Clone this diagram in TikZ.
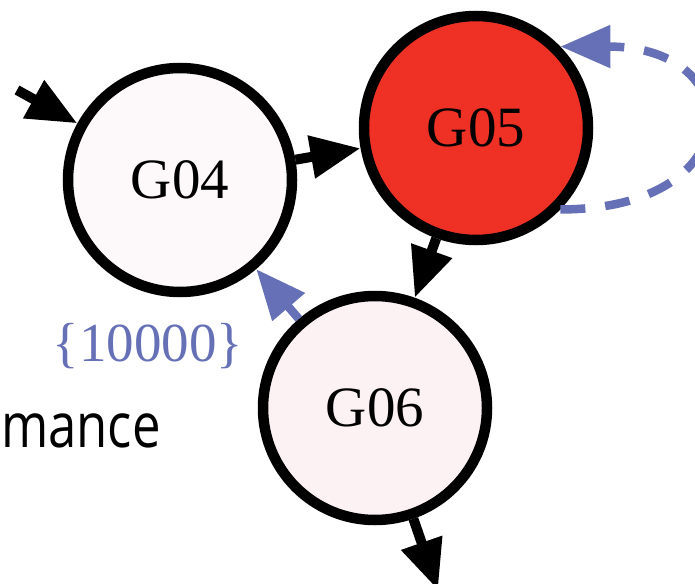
\documentclass[tikz,border=0pt]{standalone}
\usepackage{fontspec}
\setmainfont{Liberation Serif}
\newfontfamily\clusterfont[FakeStretch=0.82]{Open Sans}
\usepackage{tikz}
\usetikzlibrary{arrows.meta,positioning}
\definecolor{hotred}{HTML}{EE3124}
\definecolor{palepink}{HTML}{FDF8F9}
\definecolor{lightpink}{HTML}{FCF1F3}
\definecolor{edgeblue}{HTML}{6670B6}

\begin{document}
\begin{tikzpicture}[x=1pt,y=-1pt,
gene/.style={draw,circle,line width=10.5pt,minimum size=224pt,inner sep=0pt,
    font=\fontsize{57}{60}\selectfont},
link/.style={line width=10pt,-{Triangle[length=50pt,width=41pt]}},
weaklink/.style={line width=8.5pt,edgeblue,dash pattern=on 25pt off 20pt,
    -{Triangle[length=50pt,width=41pt]}}]
\useasboundingbox (0,0) rectangle (695,583);

\node (g04) [gene,fill=palepink] at (180,180) {G04};
\node (g05) [gene,fill=hotred] at (476,128) {G05};
\node (g06) [gene,fill=lightpink] at (375,408) {G06};

\coordinate (src) at (17,90);
\coordinate (sink) at (438,590);

\node (wlabel) [anchor=base,text=edgeblue,inner sep=0pt,
    font=\fontsize{55}{60}\selectfont] at (148,361) {\{10000\}};
\node (cluster) [anchor=base west,inner sep=0pt,
    font=\clusterfont\fontsize{62}{66}\selectfont] at (1,447) {mance};

\draw [link] (src) -- (g04);
\draw [link] (g04) -- (g05);
\draw [link] (g05) -- (g06);
\draw [link] (g06) -- (sink);
\draw [weaklink] (g06) -- (g04);
\draw [weaklink] (g05.-44) to[out=0,in=0,distance=190pt] (g05.44);
\end{tikzpicture}
\end{document}
